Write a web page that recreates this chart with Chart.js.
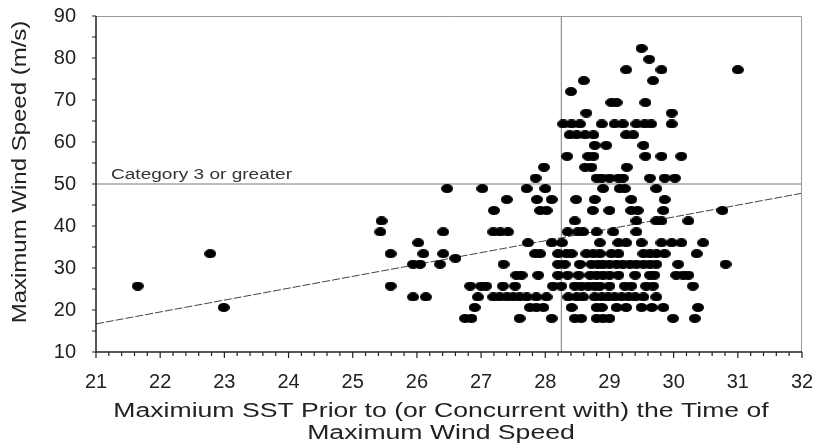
<!DOCTYPE html>
<html>
<head>
<meta charset="utf-8">
<script src="https://cdn.jsdelivr.net/npm/chart.js@4.4.1/dist/chart.umd.min.js"></script>
<style>
  html, body { margin: 0; padding: 0; background: #fff; }
</style>
</head>
<body>
<canvas id="chart" width="815" height="448"></canvas>
<script>
// wind speed rows (m/s) and the SST values of the storms in each row
const windLevels = [18.0, 20.6, 23.1, 25.7, 28.3, 30.9, 32.3, 33.4, 36.0, 38.6, 41.2, 43.7, 46.3,
  48.9, 51.4, 54.0, 56.6, 59.2, 61.7, 64.3, 66.9, 69.4, 72.0, 74.6, 77.2, 79.7, 82.3];
const sstByLevel = [
  [26.75, 26.85, 27.6, 28.1, 28.46, 28.56, 28.8, 28.9, 29.0, 29.99, 30.33],
  [22.99, 26.9, 27.76, 27.86, 27.97, 28.41, 28.8, 28.88, 29.11, 29.26, 29.5, 29.66, 29.84, 30.38],
  [25.94, 26.14, 26.95, 27.19, 27.29, 27.4, 27.5, 27.6, 27.71, 27.86, 28.02, 28.36, 28.49, 28.59,
    28.77, 28.88, 28.98, 29.08, 29.19, 29.3, 29.4, 29.53, 29.73],
  [21.65, 25.59, 26.83, 27.0, 27.08, 27.34, 27.53, 28.12, 28.25, 28.46, 28.56, 28.67, 28.77, 28.85,
    29.0, 29.24, 29.34, 29.57, 29.68, 30.3],
  [27.55, 27.63, 27.89, 28.2, 28.35, 28.52, 28.7, 28.8, 28.9, 29.0, 29.14, 29.4, 29.63, 29.7, 30.04, 30.15, 30.23],
  [25.94, 26.05, 26.36, 27.35, 28.2, 28.3, 28.54, 28.72, 28.82, 28.9, 29.0, 29.11, 29.21, 29.32,
    29.42, 29.53, 29.63, 29.73, 30.07, 30.81],
  [26.6],
  [22.78, 25.59, 26.1, 26.41, 27.84, 27.92, 28.2, 28.33, 28.41, 28.64, 28.75, 28.85, 29.03, 29.14,
    29.53, 29.63, 29.73, 29.86, 30.36],
  [26.02, 27.73, 28.1, 28.26, 28.85, 29.14, 29.26, 29.5, 29.81, 29.97, 30.12, 30.46],
  [25.43, 26.41, 27.19, 27.3, 27.42, 28.35, 28.51, 28.59, 28.8, 29.06, 29.42],
  [25.45, 28.46, 29.42, 29.73, 29.81, 30.23],
  [27.2, 27.92, 28.02, 28.74, 29.0, 29.34, 29.44, 29.84, 30.76],
  [27.4, 27.87, 28.1, 28.48, 28.77, 29.34, 29.86],
  [26.47, 27.02, 27.71, 28.0, 28.9, 29.16, 29.24, 29.73],
  [27.85, 28.8, 28.88, 29.0, 29.14, 29.21, 29.63, 29.86, 30.02],
  [27.98, 28.62, 28.72, 29.27],
  [28.34, 28.67, 28.75, 29.56, 29.81, 30.12],
  [28.77, 28.95, 29.53],
  [28.38, 28.49, 28.62, 28.75, 29.26, 29.37],
  [28.28, 28.41, 28.54, 28.88, 29.08, 29.21, 29.42, 29.55, 29.65, 29.97],
  [28.64, 29.97],
  [29.03, 29.11, 29.56],
  [28.4],
  [28.6, 29.68],
  [29.26, 29.81, 31.0],
  [29.62],
  [29.5]
];

const xRange = [21, 32];
const yRange = [10, 90];
const thresholdWind = 50;      // category 3
const thresholdSst = 28.25;
const trendSst = [21, 32];
const trendWind = [16.7, 47.8];
const noteText = 'Category 3 or greater';
const xTitle = ['Maximium SST Prior to (or Concurrent with) the Time of', 'Maximum Wind Speed'];
const yTitle = 'Maximum Wind Speed (m/s)';

const FONT = 'Liberation Sans, Arial, sans-serif';

const points = windLevels.flatMap((w, i) => sstByLevel[i].map(s => ({ x: s, y: w })));

// dots in the original are a bit wider than tall
const dot = document.createElement('canvas');
dot.width = 12;
dot.height = 9;
const dctx = dot.getContext('2d');
dctx.fillStyle = '#000';
dctx.beginPath();
dctx.ellipse(6, 4.5, 6, 4.5, 0, 0, Math.PI * 2);
dctx.fill();

// the source figure's lettering is stretched sideways, so text is drawn with a scale
function stretchedText(ctx, text, x, y, size, sx, angle) {
  ctx.save();
  ctx.translate(x, y);
  if (angle) ctx.rotate(angle);
  ctx.scale(sx, 1);
  ctx.font = size + 'px ' + FONT;
  ctx.fillText(text, 0, 0);
  ctx.restore();
}

const axisDecor = {
  id: 'axisDecor',
  afterDraw(chart) {
    const { ctx, chartArea: a, scales: { x, y } } = chart;
    ctx.save();
    // top / right frame
    ctx.strokeStyle = '#9a9a9a';
    ctx.lineWidth = 1;
    ctx.beginPath();
    ctx.moveTo(a.left, a.top + 0.5);
    ctx.lineTo(a.right - 0.5, a.top + 0.5);
    ctx.lineTo(a.right - 0.5, a.bottom);
    ctx.stroke();
    // axes
    ctx.strokeStyle = '#222';
    ctx.lineWidth = 1.5;
    ctx.beginPath();
    ctx.moveTo(a.left, a.top);
    ctx.lineTo(a.left, a.bottom);
    ctx.lineTo(a.right, a.bottom);
    ctx.stroke();
    // tick marks
    ctx.lineWidth = 1.2;
    ctx.beginPath();
    for (let i = 0; i <= 55; i++) {
      const px = x.getPixelForValue(xRange[0] + i * 0.2);
      ctx.moveTo(px, a.bottom);
      ctx.lineTo(px, a.bottom + (i % 5 === 0 ? 6 : 4));
    }
    for (let v = yRange[0]; v <= yRange[1]; v += 5) {
      const py = y.getPixelForValue(v);
      ctx.moveTo(a.left, py);
      ctx.lineTo(a.left - 4, py);
    }
    ctx.stroke();

    ctx.fillStyle = '#333';
    ctx.textAlign = 'left';
    ctx.textBaseline = 'alphabetic';
    stretchedText(ctx, noteText, x.getPixelForValue(xRange[0]) + 15, y.getPixelForValue(thresholdWind) - 5, 14, 1.36);

    ctx.fillStyle = '#222';
    ctx.textAlign = 'center';
    ctx.textBaseline = 'middle';
    const cx = (a.left + a.right) / 2 - 8;
    xTitle.forEach((line, i) => stretchedText(ctx, line, cx, a.bottom + 59 + i * 22, 20, 1.33));
    stretchedText(ctx, yTitle, 20, (a.top + a.bottom) / 2 - 12, 20, 1.2, -Math.PI / 2);
    ctx.restore();
  }
};

const lineStyle = { showLine: true, pointRadius: 0, borderWidth: 1, fill: false };

new Chart(document.getElementById('chart'), {
  type: 'scatter',
  data: {
    datasets: [
      { data: points, pointStyle: dot, pointRadius: 5, backgroundColor: '#000', borderWidth: 0 },
      { ...lineStyle, data: [{ x: thresholdSst, y: yRange[0] }, { x: thresholdSst, y: yRange[1] }], borderColor: '#7a7a7a' },
      { ...lineStyle, data: [{ x: xRange[0], y: thresholdWind }, { x: xRange[1], y: thresholdWind }], borderColor: '#7a7a7a' },
      { ...lineStyle, data: trendSst.map((s, i) => ({ x: s, y: trendWind[i] })), borderColor: '#444', borderDash: [8, 2] }
    ]
  },
  options: {
    responsive: false,
    animation: false,
    layout: { padding: { top: 16, right: 13, left: 0, bottom: 0 } },
    plugins: { legend: { display: false }, tooltip: { enabled: false } },
    scales: {
      x: {
        type: 'linear',
        min: xRange[0],
        max: xRange[1],
        afterFit(s) { s.height = 96; s.paddingLeft = 0; s.paddingRight = 0; },
        grid: { display: false, drawTicks: false },
        border: { display: false },
        ticks: { stepSize: 1, padding: 18, color: '#222', font: { family: FONT, size: 20 } },
        title: { display: false }
      },
      y: {
        min: yRange[0],
        max: yRange[1],
        afterFit(s) { s.width = 96; s.paddingTop = 0; s.paddingBottom = 0; },
        grid: { display: false, drawTicks: false },
        border: { display: false },
        ticks: { stepSize: 10, padding: 20, color: '#222', font: { family: FONT, size: 20 } },
        title: { display: false }
      }
    }
  },
  plugins: [axisDecor]
});
</script>
</body>
</html>
